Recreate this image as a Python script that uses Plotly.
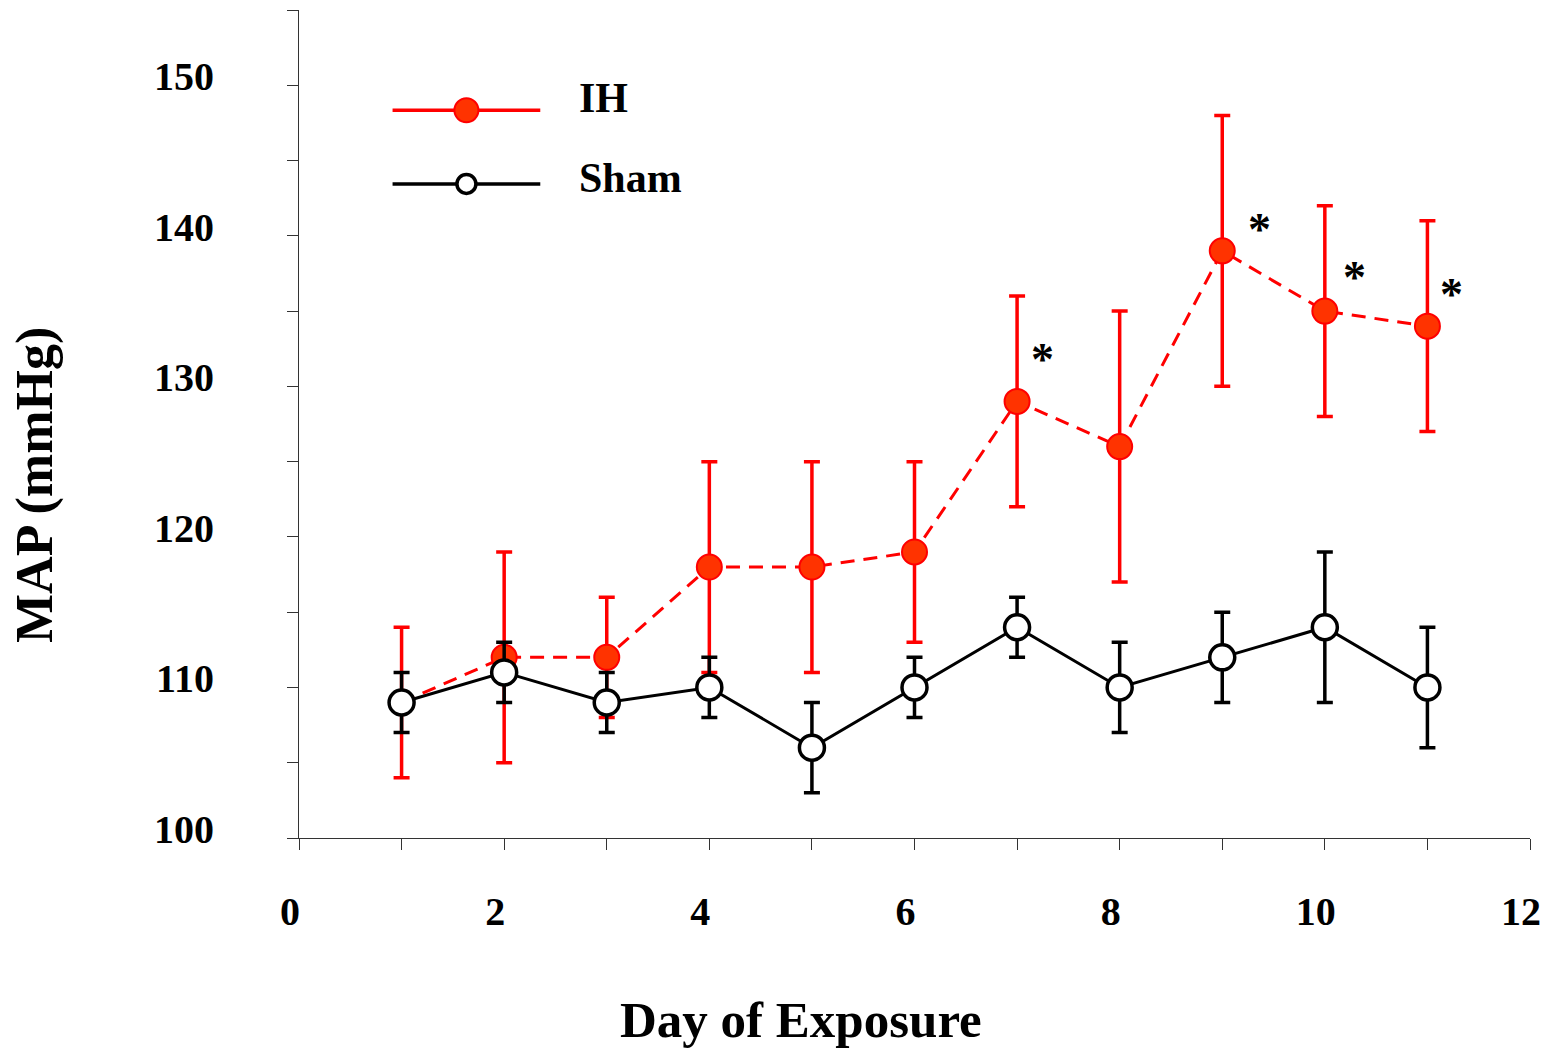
import plotly.graph_objects as go

days = [1, 2, 3, 4, 5, 6, 7, 8, 9, 10, 11]
ih_mean = [109, 112, 112, 118, 118, 119, 129, 126, 139, 135, 134]
ih_err = [5, 7, 4, 7, 7, 6, 7, 9, 9, 7, 7]
sham_mean = [109, 111, 109, 110, 106, 110, 114, 110, 112, 114, 110]
sham_err = [2, 2, 2, 2, 3, 2, 2, 3, 3, 5, 4]
star_x = [7.25, 9.36, 10.29, 11.23]
star_y = [131.8, 140.4, 137.2, 136.1]

x_ticks = [0, 2, 4, 6, 8, 10, 12]
y_ticks = [100, 110, 120, 130, 140, 150]

FONT = "Liberation Serif, Times New Roman, serif"

fig = go.Figure()

fig.add_trace(go.Scatter(
    x=days, y=ih_mean, mode="lines+markers", name="IH", showlegend=False,
    line=dict(color="#ff0000", width=3, dash="14px,9px"),
    marker=dict(size=25, color="#ff3300", line=dict(color="#ff0000", width=2)),
    error_y=dict(type="data", array=ih_err, color="#ff0000", thickness=3.5, width=8),
))
fig.add_trace(go.Scatter(
    x=days, y=sham_mean, mode="lines+markers", name="Sham", showlegend=False,
    line=dict(color="#000000", width=3),
    marker=dict(size=25, color="#ffffff", line=dict(color="#000000", width=3.5)),
    error_y=dict(type="data", array=sham_err, color="#000000", thickness=3.5, width=8),
))

# legend samples on an overlay axis
fig.add_trace(go.Scatter(
    x=[0.076, 0.136, 0.196], y=[0.879, 0.879, 0.879], mode="lines", xaxis="x2", yaxis="y2",
    line=dict(color="#ff0000", width=3.5), showlegend=False, hoverinfo="skip"))
fig.add_trace(go.Scatter(
    x=[0.136], y=[0.879], mode="markers", xaxis="x2", yaxis="y2",
    marker=dict(size=24, color="#ff3300", line=dict(color="#ff0000", width=2)),
    showlegend=False, hoverinfo="skip"))
fig.add_trace(go.Scatter(
    x=[0.076, 0.196], y=[0.790, 0.790], mode="lines", xaxis="x2", yaxis="y2",
    line=dict(color="#000000", width=3.5), showlegend=False, hoverinfo="skip"))
fig.add_trace(go.Scatter(
    x=[0.136], y=[0.790], mode="markers", xaxis="x2", yaxis="y2",
    marker=dict(size=19, color="#ffffff", line=dict(color="#000000", width=3.5)),
    showlegend=False, hoverinfo="skip"))

annotations = [
    dict(x=0.226, y=0.894, xref="x2", yref="y2", text="IH", showarrow=False,
         xanchor="left", yanchor="middle",
         font=dict(family=FONT, size=42, color="black", weight="bold")),
    dict(x=0.226, y=0.797, xref="x2", yref="y2", text="Sham", showarrow=False,
         xanchor="left", yanchor="middle",
         font=dict(family=FONT, size=42, color="black", weight="bold")),
    dict(x=801, y=1020, xref="paper", yref="paper", text="Day of Exposure", showarrow=False,
         xanchor="center", yanchor="middle",
         font=dict(family=FONT, size=51, color="black", weight="bold")),
    dict(x=35, y=485, xref="paper", yref="paper", text="MAP (mmHg)", showarrow=False, textangle=-90,
         xanchor="center", yanchor="middle",
         font=dict(family=FONT, size=52, color="black", weight="bold")),
]
# convert pixel-placed titles to paper coords
for a in annotations[2:]:
    a["x"] = (a["x"] - 299) / (1530 - 299)
    a["y"] = (838 - a["y"]) / (838 - 10)
for sx, sy in zip(star_x, star_y):
    annotations.append(dict(x=sx, y=sy, xref="x", yref="y", text="*", showarrow=False,
                            font=dict(family=FONT, size=46, color="black", weight="bold")))

fig.update_layout(
    width=1547, height=1049,
    margin=dict(l=299, r=17, t=10, b=211, autoexpand=False),
    paper_bgcolor="white", plot_bgcolor="white",
    font=dict(family=FONT, color="black"),
    annotations=annotations,
    xaxis=dict(
        range=[0, 12], tickvals=x_ticks, ticks="outside", ticklen=11, tickwidth=1.2,
        tickcolor="#333", showline=True, linecolor="#333", linewidth=1.2, automargin=False,
        showgrid=False, zeroline=False, ticklabelstandoff=27, ticklabelshift=-9,
        ticklabeloverflow="allow",
        minor=dict(dtick=1, ticks="outside", ticklen=11, tickwidth=1.2, tickcolor="#333", showgrid=False),
        tickfont=dict(family=FONT, size=40, weight="bold"),
    ),
    yaxis=dict(
        range=[100, 155], tickvals=y_ticks, ticks="outside", ticklen=11, tickwidth=1.2,
        tickcolor="#333", showline=True, linecolor="#333", linewidth=1.2, automargin=False,
        showgrid=False, zeroline=False, ticklabelstandoff=65, ticklabelshift=-9,
        ticklabeloverflow="allow",
        minor=dict(dtick=5, ticks="outside", ticklen=11, tickwidth=1.2, tickcolor="#333", showgrid=False),
        tickfont=dict(family=FONT, size=40, weight="bold"),
    ),
    xaxis2=dict(range=[0, 1], overlaying="x", visible=False, fixedrange=True),
    yaxis2=dict(range=[0, 1], overlaying="y", visible=False, fixedrange=True),
)

fig.write_html("out.html")
